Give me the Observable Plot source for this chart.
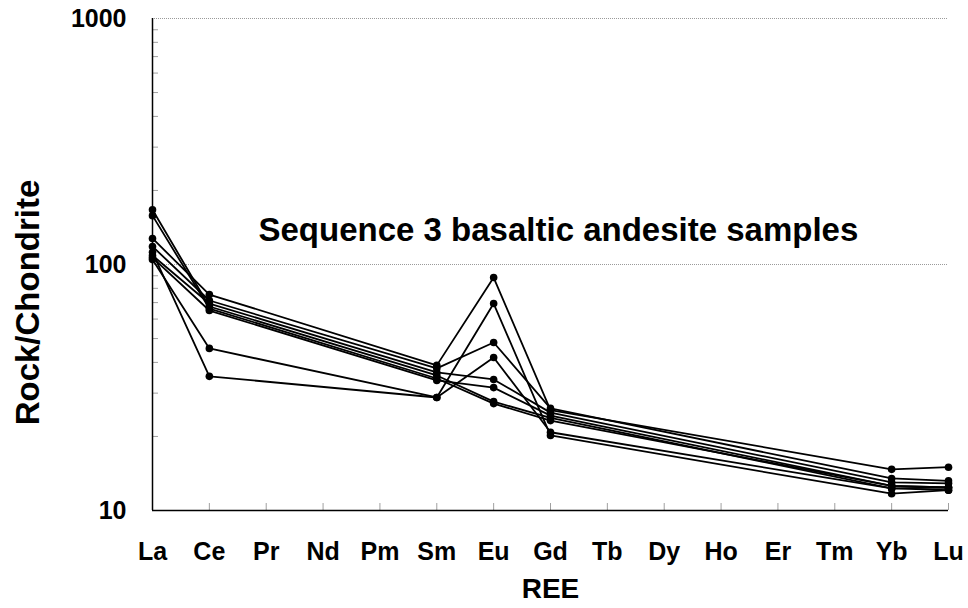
<!DOCTYPE html>
<html>
<head>
<meta charset="utf-8">
<script src="https://cdn.jsdelivr.net/npm/d3@7"></script>
<script src="https://cdn.jsdelivr.net/npm/@observablehq/plot@0.6"></script>
<style>
  html, body { margin: 0; padding: 0; background: #fff; }
  #chart svg { display: block; }
</style>
</head>
<body>
<div id="chart"></div>
<script>
// Rare earth elements in atomic order (x categories)
const elements = ["La", "Ce", "Pr", "Nd", "Pm", "Sm", "Eu", "Gd", "Tb", "Dy", "Ho", "Er", "Tm", "Yb", "Lu"];
// Elements analysed for each sample
const analysed = ["La", "Ce", "Sm", "Eu", "Gd", "Yb", "Lu"];

// Chondrite-normalised abundances, one array per sample (same order as `analysed`)
const sampleA = [127.6, 75.5, 38.9, 88.5, 25.6, 14.7, 15.0];
const sampleB = [118.4, 71.4, 37.8, 48.2, 26.0, 13.5, 13.2];
const sampleC = [108.8, 69.4, 36.4, 34.1, 25.0, 13.0, 12.9];
const sampleD = [106.7, 65.0, 33.8, 31.6, 24.3, 12.6, 12.4];
const sampleE = [167.0, 67.5, 35.4, 27.7, 23.8, 12.3, 12.1];
const sampleF = [158.0, 66.2, 34.4, 27.2, 23.2, 12.6, 12.4];
const sampleG = [104.7, 45.6, 28.8, 69.4, 20.2, 11.7, 12.1];
const sampleH = [112.0, 35.1, 28.8, 41.9, 20.8, 12.3, 12.4];

const samples = {A: sampleA, B: sampleB, C: sampleC, D: sampleD, E: sampleE, F: sampleF, G: sampleG, H: sampleH};

// Axis ticks
const majorTicks = [10, 100, 1000];
const minorTicks = [20, 30, 40, 50, 60, 70, 80, 90, 200, 300, 400, 500, 600, 700, 800, 900];
const gridTicks = [100, 1000];

const title = "Sequence 3 basaltic andesite samples";
const xLabel = "REE";
const yLabel = "Rock/Chondrite";

// Long table for the line and dot marks
const data = Object.entries(samples).flatMap(([id, values]) =>
  values.map((v, i) => ({sample: id, ree: analysed[i], value: v}))
);

const font = "'Liberation Sans', Arial, Helvetica, sans-serif";

const chart = Plot.plot({
  width: 968,
  height: 608,
  marginLeft: 152,
  marginRight: 20,
  marginTop: 18,
  marginBottom: 98,
  style: {fontFamily: font, background: "#fff", color: "#000"},
  x: {type: "point", domain: elements, padding: 0, round: false, label: null},
  y: {type: "log", domain: [10, 1000], label: null},
  marks: [
    Plot.gridY(gridTicks, {stroke: "#9a9a9a", strokeOpacity: 1, strokeDasharray: "1,1"}),
    // inward gray tick marks
    Plot.axisX(elements.slice(1), {tickSize: -7, stroke: "#a0a0a0", text: null, strokeWidth: 1}),
    Plot.axisY(minorTicks, {tickSize: -6, stroke: "#a0a0a0", text: null, strokeWidth: 1}),
    // tick labels
    Plot.axisX(elements, {tickSize: 0, tickPadding: 32, fontSize: 25, fontWeight: "bold", label: null}),
    Plot.axisY(majorTicks, {tickSize: 0, tickPadding: 26, fontSize: 25, fontWeight: "bold", tickFormat: d => String(d), label: null}),
    // axis lines
    Plot.ruleY([10], {stroke: "#000", strokeWidth: 1.5}),
    Plot.ruleX([elements[0]], {stroke: "#000", strokeWidth: 1.5}),
    // sample profiles
    Plot.line(data, {x: "ree", y: "value", z: "sample", stroke: "#000", strokeWidth: 1.8}),
    Plot.dot(data, {x: "ree", y: "value", r: 3.8, fill: "#000", stroke: null}),
    // titles
    Plot.text([title], {frameAnchor: "top-left", dx: 106, dy: 212, textAnchor: "start", lineAnchor: "middle", fontSize: 33, fontWeight: "bold", fill: "#000"}),
    Plot.text([xLabel], {frameAnchor: "bottom", dy: 79, lineAnchor: "middle", textAnchor: "middle", fontSize: 28, fontWeight: "bold", fill: "#000"}),
    Plot.text([yLabel], {frameAnchor: "left", dx: -124, dy: 38, rotate: -90, textAnchor: "middle", lineAnchor: "middle", fontSize: 33, fontWeight: "bold", fill: "#000"})
  ]
});

document.getElementById("chart").appendChild(chart);
</script>
</body>
</html>
